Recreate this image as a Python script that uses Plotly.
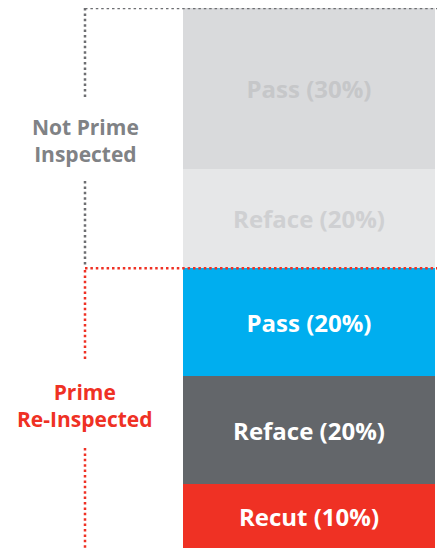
import plotly.graph_objects as go

# Segments from bottom to top
segments = ["Recut", "Reface", "Pass", "Reface", "Pass"]
shares = [10, 20, 20, 20, 30]                 # percentages shown in labels
heights = [11.9, 20.0, 19.9, 18.4, 29.8]       # segment heights
groups = ["Prime Re-Inspected"] * 3 + ["Not Prime Inspected"] * 2
fill_colors = ["#ef3124", "#63666a", "#00aeef", "#e6e7e8", "#d9dadc"]
text_colors = ["#ffffff", "#ffffff", "#ffffff", "#cfd0d2", "#c6c7c9"]

W, H = 440, 548
FONT = "Open Sans"

fig = go.Figure()
for name, share, h, fc, tc in zip(segments, shares, heights, fill_colors, text_colors):
    fig.add_trace(go.Bar(
        x=["bar"], y=[h], name=name,
        marker=dict(color=fc, line=dict(width=0)),
        text=[f"<b>{name} ({share}%)</b>"],
        textposition="inside", insidetextanchor="middle",
        textfont=dict(color=tc, size=24, family=FONT),
        constraintext="none", hoverinfo="skip", width=1,
    ))

total = sum(heights)
boundary = sum(heights[:3])   # top of the "Prime Re-Inspected" group

x_left = 85 / W
x_right = 437 / W
shapes = []
gray = "#6d6e71"
red = "#ef3124"
dash = "2.5px,2.9px"
LW = 2.5
# gray top horizontal
shapes.append(dict(type="line", xref="paper", yref="y", x0=x_left, x1=x_right, y0=total, y1=total,
                   line=dict(color=gray, width=LW, dash=dash)))
# gray vertical above label
shapes.append(dict(type="line", xref="paper", yref="paper", x0=x_left, x1=x_left,
                   y0=1 - 8 / H, y1=1 - 97 / H, line=dict(color=gray, width=LW, dash=dash)))
# gray vertical below label
shapes.append(dict(type="line", xref="paper", yref="paper", x0=x_left, x1=x_left,
                   y0=1 - 181 / H, y1=1 - 266 / H, line=dict(color=gray, width=LW, dash=dash)))
# red horizontal at group boundary
shapes.append(dict(type="line", xref="paper", yref="y", x0=x_left, x1=x_right, y0=boundary, y1=boundary,
                   line=dict(color=red, width=LW, dash=dash), layer="above"))
# red vertical above label
shapes.append(dict(type="line", xref="paper", yref="paper", x0=x_left, x1=x_left,
                   y0=1 - 270 / H, y1=1 - 359 / H, line=dict(color=red, width=LW, dash=dash)))
# red vertical below label
shapes.append(dict(type="line", xref="paper", yref="paper", x0=x_left, x1=x_left,
                   y0=1 - 448 / H, y1=0, line=dict(color=red, width=LW, dash=dash)))

annotations = [
    dict(text="<b>Not Prime<br>Inspected</b>", xref="paper", yref="paper", x=x_left, y=1 - 140 / H,
         xanchor="center", yanchor="middle", showarrow=False,
         font=dict(color="#808285", size=21, family=FONT)),
    dict(text="<b>Prime<br>Re-Inspected</b>", xref="paper", yref="paper", x=x_left, y=1 - 405 / H,
         xanchor="center", yanchor="middle", showarrow=False,
         font=dict(color=red, size=21, family=FONT)),
]

fig.update_layout(
    width=W, height=H,
    margin=dict(l=0, r=0, t=0, b=0),
    paper_bgcolor="white", plot_bgcolor="white",
    barmode="stack", bargap=0, showlegend=False,
    xaxis=dict(domain=[183 / W, 435 / W], visible=False, fixedrange=True),
    yaxis=dict(domain=[0, 1 - 8 / H], range=[0, total], visible=False, fixedrange=True),
    shapes=shapes, annotations=annotations,
)

fig.write_html("out.html", config={"displayModeBar": False},
               post_script="document.body.style.margin='0';document.body.style.overflow='hidden';")
